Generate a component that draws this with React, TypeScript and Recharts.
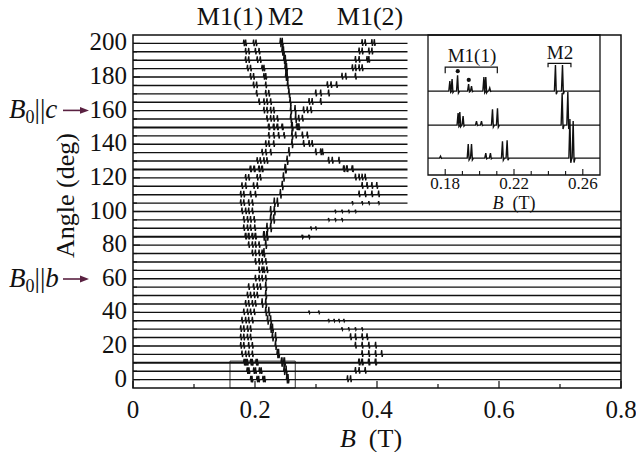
import { LineChart, ComposedChart, Line, Scatter, XAxis, YAxis, ReferenceArea } from 'recharts';

const FONT = '"Liberation Serif", "Times New Roman", serif';

// angles of the stacked spectra (deg), bottom to top
const angles = [0, 5, 10, 15, 20, 25, 30, 35, 40, 45, 50, 55, 60, 65, 70, 75, 80, 85, 90, 95, 100,
  105, 110, 115, 120, 125, 130, 135, 140, 145, 150, 155, 160, 165, 170, 175, 180, 185, 190, 195, 200];

const xTicks = [0, 0.1, 0.2, 0.3, 0.4, 0.5, 0.6, 0.7, 0.8];
const insetTicks = [0.18, 0.19, 0.2, 0.21, 0.22, 0.23, 0.24, 0.25, 0.26];

// line positions (T), one list per angle
const m11Peaks = [
  [0.1935, 0.1954, 0.2037, 0.2064, 0.2134, 0.2161],
  [0.1876, 0.1886, 0.1905, 0.1983, 0.2012, 0.2076, 0.2105],
  [0.1828, 0.1841, 0.1873, 0.1937, 0.1954, 0.2026, 0.2037],
  [0.179, 0.185, 0.19, 0.196],
  [0.177, 0.182, 0.19, 0.196],
  [0.177, 0.182, 0.188, 0.193],
  [0.177, 0.182, 0.188, 0.193],
  [0.179, 0.185, 0.19, 0.196],
  [0.182, 0.188, 0.193, 0.199],
  [0.185, 0.19, 0.196, 0.201],
  [0.188, 0.193, 0.199, 0.204],
  [0.19, 0.198, 0.204, 0.209],
  [0.201, 0.207, 0.212, 0.218],
  [0.207, 0.212, 0.215, 0.22],
  [0.201, 0.207, 0.212, 0.218],
  [0.196, 0.201, 0.207, 0.212],
  [0.19, 0.196, 0.201, 0.207],
  [0.185, 0.19, 0.196, 0.201],
  [0.182, 0.188, 0.193, 0.2],
  [0.182, 0.188, 0.193, 0.199],
  [0.179, 0.185, 0.19, 0.196],
  [0.177, 0.182, 0.19, 0.196],
  [0.177, 0.182, 0.193, 0.201],
  [0.179, 0.185, 0.198, 0.204],
  [0.185, 0.19, 0.204, 0.209],
  [0.193, 0.199, 0.207, 0.212],
  [0.204, 0.209, 0.215, 0.22],
  [0.212, 0.218, 0.226],
  [0.218, 0.223, 0.231],
  [0.223, 0.231, 0.239, 0.248],
  [0.223, 0.231, 0.237, 0.245],
  [0.22, 0.226, 0.231, 0.237],
  [0.215, 0.22, 0.226, 0.231],
  [0.207, 0.215, 0.22, 0.226],
  [0.203, 0.218, 0.223],
  [0.198, 0.203, 0.218],
  [0.193, 0.198, 0.215, 0.218],
  [0.188, 0.193, 0.212, 0.215],
  [0.185, 0.19, 0.204, 0.209],
  [0.185, 0.19, 0.201, 0.207],
  [0.182, 0.185, 0.198, 0.202],
];

const m2Peaks = [
  [0.2526, 0.2545], [0.2481, 0.2514], [0.2442, 0.2483], [0.237, 0.239], [0.234],
  [0.229, 0.234], [0.226, 0.229], [0.221, 0.226], [0.218, 0.223], [0.212, 0.218],
  [0.218], [0.218], [], [], [],
  [0.215], [0.218], [0.215, 0.22], [0.22, 0.226], [0.226, 0.231],
  [0.226, 0.232], [0.232, 0.237], [0.242], [0.245], [0.247],
  [0.25], [0.253], [0.256], [0.261], [0.261],
  [0.261], [0.259, 0.267], [0.259, 0.266], [0.258], [0.256],
  [0.254], [0.251, 0.253], [0.25, 0.252], [0.248, 0.25], [0.245, 0.247],
  [0.242, 0.245],
];

const m12Peaks = [
  [0.352, 0.357], [0.365, 0.371, 0.381], [0.371, 0.376, 0.387, 0.398], [0.376, 0.387, 0.398, 0.408],
  [0.365, 0.376, 0.387, 0.398], [0.357, 0.365, 0.376, 0.384], [0.343, 0.354, 0.365, 0.376],
  [0.321, 0.33, 0.338, 0.346], [0.289, 0.305], [], [], [], [], [], [], [], [],
  [0.278, 0.289], [0.292, 0.3], [0.321, 0.332, 0.343], [0.332, 0.343, 0.354, 0.365],
  [0.36, 0.376, 0.387, 0.403], [0.371, 0.381, 0.392, 0.403], [0.376, 0.384, 0.392, 0.4],
  [0.365, 0.371, 0.376, 0.381], [0.346, 0.351, 0.36], [0.321, 0.327, 0.338],
  [0.3, 0.308, 0.311], [0.28, 0.289, 0.294], [0.267, 0.278, 0.286], [0.269, 0.272],
  [0.272, 0.278], [0.28, 0.286, 0.292], [0.289, 0.294, 0.308], [0.3, 0.308, 0.321],
  [0.319, 0.325, 0.334], [0.343, 0.349, 0.365], [0.36, 0.365, 0.371, 0.376],
  [0.365, 0.371, 0.384, 0.387], [0.371, 0.376, 0.387, 0.392], [0.376, 0.381, 0.392, 0.396],
];

const weakM12 = [30, 35, 40, 85, 90, 95, 100, 105];
const boldAngles = [10, 85, 125, 150];

// inset: three lowest spectra, [position (T), height]
const insetAngles = [10, 5, 0];
const insetBase = [2.49, 1.48, 0.5];
const insetPeaks = [
  [[0.1828, 0.3], [0.1841, 0.36], [0.1873, 0.47], [0.1937, 0.21], [0.1954, 0.15], [0.2026, 0.42], [0.2037, 0.42], [0.206, 0.09], [0.2442, 0.77], [0.2483, 0.77]],
  [[0.1876, 0.36], [0.1886, 0.39], [0.1905, 0.27], [0.1983, 0.12], [0.2012, 0.12], [0.2076, 0.47], [0.2105, 0.5], [0.2481, 0.95], [0.2514, 0.98]],
  [[0.1774, 0.06], [0.1935, 0.42], [0.1954, 0.42], [0.2037, 0.15], [0.2064, 0.15], [0.2134, 0.5], [0.2161, 0.53], [0.2526, 1.16], [0.2545, 1.1]],
];
const insetDots = [{ b: 0.1873, y: 3.08 }, { b: 0.1937, y: 2.82 }];

const traces = angles.map((a, i) => {
  const weak = weakM12.includes(a);
  const peaks = [
    ...m11Peaks[i].map((p) => ({ p, up: 2.3, down: 1.6 })),
    ...m2Peaks[i].map((p) => ({ p, up: 3.3, down: 2.3 })),
    ...m12Peaks[i].map((p) => (weak ? { p, up: 1.1, down: 0.5 } : { p, up: 2.5, down: 1.5 })),
  ].sort((u, v) => u.p - v.p);
  const pts = [{ b: 0, y: a }];
  peaks.forEach(({ p, up, down }) => {
    pts.push({ b: p - 0.0012, y: a }, { b: p - 0.0003, y: a + up }, { b: p + 0.0005, y: a - down }, { b: p + 0.0013, y: a });
  });
  pts.push({ b: a <= 100 ? 0.8 : 0.45, y: a });
  return { a, pts };
});

const insetTraces = insetAngles.map((a, i) => {
  const base = insetBase[i];
  const pts = [{ b: 0.17, y: base }];
  insetPeaks[i].forEach(([p, h]) => {
    pts.push({ b: p - 0.0007, y: base }, { b: p - 0.0001, y: base + h }, { b: p + 0.0004, y: base - 0.12 * h }, { b: p + 0.001, y: base });
  });
  pts.push({ b: 0.27, y: base });
  return { a, pts };
});

const bracketM11 = [{ b: 0.18, y: 3.02 }, { b: 0.18, y: 3.2 }, { b: 0.2103, y: 3.2 }, { b: 0.2103, y: 3.02 }];
const bracketM2 = [{ b: 0.2398, y: 3.2 }, { b: 0.2398, y: 3.31 }, { b: 0.2531, y: 3.31 }, { b: 0.2531, y: 3.2 }];

const fmt = (v: number) => String(Number(v.toFixed(2)));

const MainXTick = ({ x, y, payload }: any) => {
  const major = Math.round(payload.value * 10) % 2 === 0;
  return (
    <g>
      <line x1={x} x2={x} y1={y} y2={y - (major ? 7 : 4)} stroke="#111" strokeWidth={1.2} />
      {major && (
        <text x={x} y={y + 30} textAnchor="middle" fontSize={25} fontFamily={FONT} fill="#111">{fmt(payload.value)}</text>
      )}
    </g>
  );
};

const MainYTick = ({ x, y, payload }: any) => {
  const major = payload.value % 20 === 0;
  return (
    <g>
      <line x1={x} x2={x + (major ? 7 : 4)} y1={y} y2={y} stroke="#111" strokeWidth={1.2} />
      {major && (
        <text x={x - 6} y={y + 7} textAnchor="end" fontSize={25} fontFamily={FONT} fill="#111">{payload.value}</text>
      )}
    </g>
  );
};

const InsetXTick = ({ x, y, payload }: any) => {
  const major = [0.18, 0.22, 0.26].includes(Number(payload.value.toFixed(2)));
  return (
    <g>
      <line x1={x} x2={x} y1={y} y2={y - (major ? 6 : 4)} stroke="#111" strokeWidth={1.1} />
      {major && (
        <text x={x} y={y + 14} textAnchor="middle" fontSize={17} fontFamily={FONT} fill="#111">{fmt(payload.value)}</text>
      )}
    </g>
  );
};

export default function App() {
  return (
    <div style={{ position: 'absolute', left: 0, top: 0, width: 636, height: 452, background: '#fff' }}>
      <div style={{ position: 'absolute', left: 0, top: 0 }}>
        <LineChart width={636} height={452} margin={{ top: 35, right: 15, bottom: 0, left: 73 }}>
          <XAxis type="number" dataKey="b" domain={[0, 0.8]} ticks={xTicks} interval={0} tick={(p: any) => <MainXTick {...p} />}
            tickLine={false} axisLine={false} tickSize={0} tickMargin={0} height={64} allowDataOverflow />
          <YAxis type="number" dataKey="y" domain={[-5, 205]} ticks={angles} interval={0} tick={(p: any) => <MainYTick {...p} />}
            tickLine={false} axisLine={false} tickSize={0} tickMargin={0} width={60} allowDataOverflow />
          {traces.map((t) => (
            <Line key={t.a} data={t.pts} dataKey="y" type="linear" stroke="#111"
              strokeWidth={boldAngles.includes(t.a) ? 1.9 : 1.4} dot={false} activeDot={false} isAnimationActive={false} />
          ))}
          <ReferenceArea x1={0.159} x2={0.266} y1={-5} y2={11} fill="none" stroke="#333" strokeWidth={1} ifOverflow="visible" />
          <ReferenceArea x1={0} x2={0.8} y1={-5} y2={205} fill="none" stroke="#111" strokeWidth={1.5} ifOverflow="visible" />
        </LineChart>
      </div>

      <div style={{ position: 'absolute', left: 400, top: 20 }}>
        <ComposedChart width={236} height={200} margin={{ top: 15, right: 36, bottom: 0, left: 28 }}>
          <XAxis type="number" dataKey="b" domain={[0.17, 0.27]} ticks={insetTicks} interval={0} tick={(p: any) => <InsetXTick {...p} />}
            tickLine={false} axisLine={false} tickSize={0} tickMargin={0} height={45} allowDataOverflow />
          <YAxis type="number" dataKey="y" domain={[0, 4.154]} hide allowDataOverflow />
          {insetTraces.map((t) => (
            <Line key={t.a} data={t.pts} dataKey="y" type="linear" stroke="#111" strokeWidth={1.4}
              dot={false} activeDot={false} isAnimationActive={false} />
          ))}
          <Line data={bracketM11} dataKey="y" type="linear" stroke="#111" strokeWidth={1.2} dot={false} isAnimationActive={false} />
          <Line data={bracketM2} dataKey="y" type="linear" stroke="#111" strokeWidth={1.2} dot={false} isAnimationActive={false} />
          <Scatter data={insetDots} dataKey="y" fill="#111" shape={(p: any) => <circle cx={p.cx} cy={p.cy} r={2.1} fill="#111" />} isAnimationActive={false} />
          <ReferenceArea x1={0.17} x2={0.27} y1={0} y2={4.154} fill="none" stroke="#111" strokeWidth={1.3} ifOverflow="visible" />
        </ComposedChart>
      </div>

      <svg width={636} height={452} style={{ position: 'absolute', left: 0, top: 0, pointerEvents: 'none' }} fontFamily={FONT} fill="#111">
        <text x={230} y={25} textAnchor="middle" fontSize={26}>M1(1)</text>
        <text x={286} y={25} textAnchor="middle" fontSize={26}>M2</text>
        <text x={370} y={25} textAnchor="middle" fontSize={26}>M1(2)</text>

        <text transform="translate(74,258) rotate(-90)" fontSize={26}>Angle (deg)</text>

        <text x={371} y={447} textAnchor="middle" fontSize={26}>
          <tspan fontStyle="italic">B</tspan>
          <tspan>{'\u00a0 (T)'}</tspan>
        </text>

        <text x={9} y={118} fontSize={27}>
          <tspan fontStyle="italic">B</tspan>
          <tspan fontSize={18} dy={5}>0</tspan>
          <tspan dy={-5}>||</tspan>
          <tspan fontStyle="italic">c</tspan>
        </text>
        <line x1={63} x2={82} y1={110.4} y2={110.4} stroke="#5a2141" strokeWidth={1.6} />
        <polygon points="89,110.4 80,107 80,113.8" fill="#5a2141" />

        <text x={9} y={287} fontSize={27}>
          <tspan fontStyle="italic">B</tspan>
          <tspan fontSize={18} dy={5}>0</tspan>
          <tspan dy={-5}>||</tspan>
          <tspan fontStyle="italic">b</tspan>
        </text>
        <line x1={63} x2={82} y1={279} y2={279} stroke="#5a2141" strokeWidth={1.6} />
        <polygon points="89,279 80,275.6 80,282.4" fill="#5a2141" />

        <text x={472} y={62} textAnchor="middle" fontSize={19}>M1(1)</text>
        <text x={560} y={59} textAnchor="middle" fontSize={19}>M2</text>
        <text x={514} y={209} textAnchor="middle" fontSize={18}>
          <tspan fontStyle="italic">B</tspan>
          <tspan>{'\u00a0 (T)'}</tspan>
        </text>
      </svg>
    </div>
  );
}
